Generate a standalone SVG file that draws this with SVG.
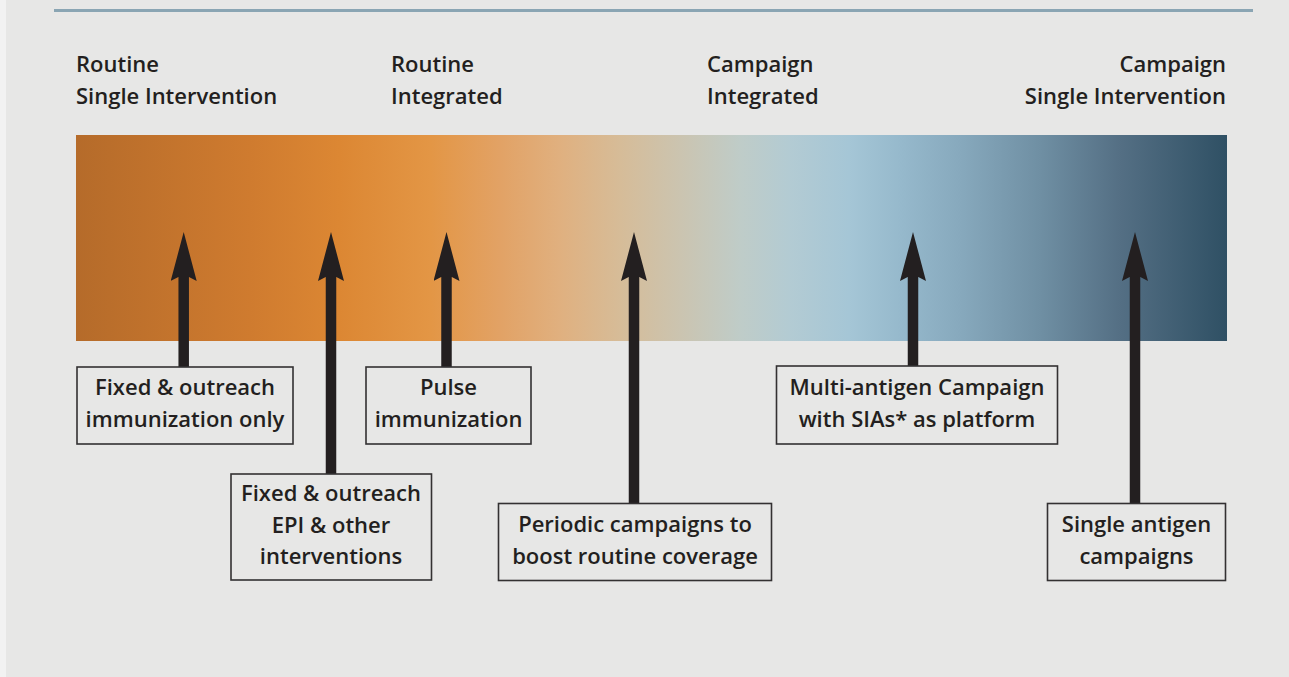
<svg xmlns="http://www.w3.org/2000/svg" width="1289" height="677" viewBox="0 0 1289 677">
<defs>
<linearGradient id="bar" x1="0" y1="0" x2="1" y2="0">
<stop offset="0" stop-color="#b56b2a"/>
<stop offset="0.151" stop-color="#cf7b2f"/>
<stop offset="0.229" stop-color="#dc8733"/>
<stop offset="0.308" stop-color="#e39645"/>
<stop offset="0.368" stop-color="#e2a265"/>
<stop offset="0.420" stop-color="#e0b07f"/>
<stop offset="0.473" stop-color="#d6bc98"/>
<stop offset="0.525" stop-color="#cbc4b0"/>
<stop offset="0.577" stop-color="#bfccc8"/>
<stop offset="0.620" stop-color="#b3cbd3"/>
<stop offset="0.672" stop-color="#a5c6d6"/>
<stop offset="0.716" stop-color="#96b9cc"/>
<stop offset="0.768" stop-color="#87a9bd"/>
<stop offset="0.838" stop-color="#6f8fa3"/>
<stop offset="0.907" stop-color="#546f84"/>
<stop offset="1" stop-color="#2f5064"/>
</linearGradient>
<marker id="head" markerUnits="userSpaceOnUse" viewBox="0 0 49 26" markerWidth="49" markerHeight="26" refX="4" refY="13" orient="auto">
<path d="M0,0 L49,13 L0,26 L4,18.3 L4,7.7 Z" fill="#231f20"/>
</marker>
<style>
.t{font-family:"Open Sans","Liberation Sans",sans-serif;font-weight:600;font-size:22px;fill:#231f20}
.c{text-anchor:middle}
.box{fill:#e7e7e6;stroke:#333132;stroke-width:1.6}
.arr{stroke:#231f20;stroke-width:10.5;fill:none}
</style>
</defs>
<rect x="0" y="0" width="1289" height="677" fill="#f2f2f2"/>
<rect x="6" y="0" width="1283" height="677" fill="#e7e7e6"/>
<line x1="54" y1="10.5" x2="1253" y2="10.5" stroke="#8aa5b3" stroke-width="3"/>
<g id="headers">
<text class="t" x="76" y="72">Routine</text>
<text class="t" x="76" y="104">Single Intervention</text>
<text class="t" x="391" y="72">Routine</text>
<text class="t" x="391" y="104">Integrated</text>
<text class="t" x="707" y="72">Campaign</text>
<text class="t" x="707" y="104">Integrated</text>
<text class="t" x="1226" y="72" text-anchor="end">Campaign</text>
<text class="t" x="1226" y="104" text-anchor="end">Single Intervention</text>
</g>
<rect id="spectrum" x="76" y="135" width="1151" height="206" fill="url(#bar)"/>
<g id="connectors">
<line class="arr" x1="183.7" y1="367" x2="183.7" y2="277" marker-end="url(#head)"/>
<line class="arr" x1="331" y1="474" x2="331" y2="277" marker-end="url(#head)"/>
<line class="arr" x1="446.5" y1="367" x2="446.5" y2="277" marker-end="url(#head)"/>
<line class="arr" x1="634" y1="503" x2="634" y2="277" marker-end="url(#head)"/>
<line class="arr" x1="913" y1="366" x2="913" y2="277" marker-end="url(#head)"/>
<line class="arr" x1="1135" y1="503" x2="1135" y2="277" marker-end="url(#head)"/>
</g>
<g id="n1">
<rect class="box" x="77" y="367" width="216" height="77"/>
<text class="t c" x="185" y="395">Fixed &amp; outreach</text>
<text class="t c" x="185" y="427">immunization only</text>
</g>
<g id="n2">
<rect class="box" x="231" y="474" width="200.5" height="106"/>
<text class="t c" x="331" y="501">Fixed &amp; outreach</text>
<text class="t c" x="331" y="532.5">EPI &amp; other</text>
<text class="t c" x="331" y="564">interventions</text>
</g>
<g id="n3">
<rect class="box" x="366" y="367" width="165" height="77"/>
<text class="t c" x="448.5" y="395">Pulse</text>
<text class="t c" x="448.5" y="427">immunization</text>
</g>
<g id="n4">
<rect class="box" x="498.5" y="503.5" width="273" height="77"/>
<text class="t c" x="635" y="532">Periodic campaigns to</text>
<text class="t c" x="635" y="563.5">boost routine coverage</text>
</g>
<g id="n5">
<rect class="box" x="776.5" y="366" width="281" height="78"/>
<text class="t c" x="917" y="395">Multi-antigen Campaign</text>
<text class="t c" x="917" y="427">with SIAs* as platform</text>
</g>
<g id="n6">
<rect class="box" x="1047.5" y="503.5" width="178" height="77"/>
<text class="t c" x="1136.5" y="532">Single antigen</text>
<text class="t c" x="1136.5" y="563.5">campaigns</text>
</g>
</svg>
